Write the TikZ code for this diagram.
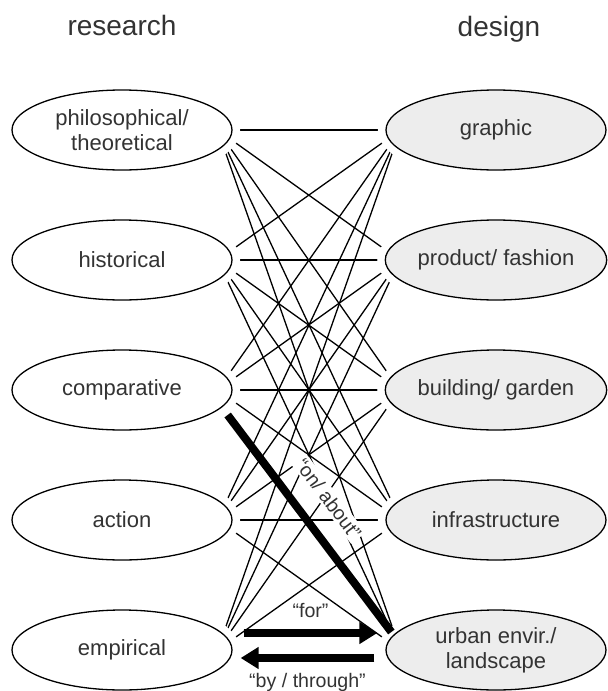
\documentclass[tikz,border=0pt]{standalone}
\usepackage{fontspec}
\setmainfont{Liberation Sans}
\usetikzlibrary{shapes.geometric,arrows.meta,calc,backgrounds}

\begin{document}
\begin{tikzpicture}[x=0.5pt,y=-0.5pt,
		field/.style={ellipse,draw,line width=0.65pt,minimum width=110pt,minimum height=40pt,inner sep=0pt,align=center,text=black!80,font=\fontsize{11}{12.5}\selectfont,preaction={draw=white,line width=8pt}},
		research/.style={field,fill=white},
		design/.style={field,fill=black!7},
		head/.style={anchor=base,text=black!80,font=\fontsize{14}{16}\selectfont},
		link/.style={line width=0.65pt},
		strong/.style={line width=4pt},
		flow/.style={line width=4pt,-{Triangle[length=9pt,width=10.5pt]}},
		tag/.style={text=black!80,font=\fontsize{9.8}{11}\selectfont,inner sep=1pt}]
		\useasboundingbox (0,0) rectangle (607,691);
		\node[head] (rtitle) at (122,35) {research};
		\node[head] (dtitle) at (499,36) {design};
		% research side
		\node[research] (phil) at (122,130) {philosophical/\\theoretical};
		\node[research] (hist) at (122,260) {historical};
		\node[research] (comp) at (122,390) {comparative};
		\node[research] (act) at (122,520) {action};
		\node[research] (emp) at (122,650) {empirical};
		% design side
		\node[design] (graphic) at (496,130) {graphic};
		\node[design] (product) at (496,260) {product/ fashion};
		\node[design] (building) at (496,390) {building/ garden};
		\node[design] (infra) at (496,520) {infrastructure};
		\node[design] (urban) at (496,650) {urban envir./\\landscape};
		\begin{scope}[on background layer]
			\foreach \r in {graphic,product,building,infra}
				\foreach \l in {phil,hist,comp,act,emp}
					\draw[link] ($(\l.east)+(-15,0)$) -- ($(\r.west)+(15,0)$);
			\foreach \l in {phil,hist,act}
				\draw[link] ($(\l.east)+(-15,0)$) -- ($(urban.west)+(15,0)$);
		\end{scope}
		\draw[strong] ($(comp.east)+(-5,25)$) -- node[tag,fill=white,sloped,above=8.5pt,pos=0.47] {“on/ about”} ($(urban.west)+(6,-18)$);
		\draw[flow] ($(emp.east)+(11,-17)$) -- node[tag,above=4.5pt] {“for”} ($(urban.west)+(-8,-17)$);
		\draw[flow] ($(urban.west)+(-11,8)$) -- node[tag,below=4.5pt] {“by / through”} ($(emp.east)+(8,8)$);
	\end{tikzpicture}
\end{document}
